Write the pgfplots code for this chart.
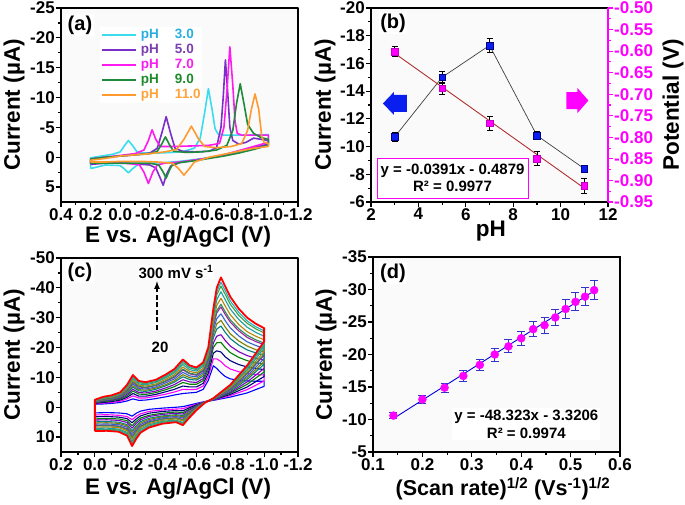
\documentclass[border=0pt]{standalone}
\usepackage{fontspec}
\setmainfont{Liberation Sans}
\usepackage{pgfplots}
\pgfplotsset{compat=1.18}
\usepackage{pgfplotstable}

\definecolor{mag}{RGB}{255,0,255}
\definecolor{cPHa}{HTML}{3ADCEE}
\definecolor{cPHb}{HTML}{7A2FC8}
\definecolor{cPHc}{HTML}{FF1AF0}
\definecolor{cPHd}{HTML}{1E8A3C}
\definecolor{cPHe}{HTML}{FF9A2E}
\definecolor{tPHa}{HTML}{2AAEE0}
\definecolor{tPHb}{HTML}{7B3FB0}
\definecolor{tPHc}{HTML}{F81EF0}
\definecolor{tPHd}{HTML}{1E8A2A}
\definecolor{tPHe}{HTML}{FFA33A}
\definecolor{fitred}{HTML}{B03030}
\definecolor{kA}{HTML}{0000FF}
\definecolor{kB}{HTML}{FF00FF}
\definecolor{kC}{HTML}{000080}
\definecolor{kD}{HTML}{008000}
\definecolor{kE}{HTML}{8000C0}
\definecolor{kF}{HTML}{008080}
\definecolor{kG}{HTML}{808000}
\definecolor{kH}{HTML}{3366CC}
\definecolor{kI}{HTML}{A020A0}
\definecolor{kJ}{HTML}{2E8B57}
\definecolor{kK}{HTML}{B8860B}
\definecolor{kL}{HTML}{1F9F9F}
\definecolor{kM}{HTML}{40A040}
\definecolor{kN}{HTML}{20B2C0}
\definecolor{kO}{HTML}{FF0000}
\definecolor{ebar}{HTML}{3333CC}
\definecolor{bsq}{HTML}{0A1EF0}

\pgfplotstableread[row sep=\\]{
E c1 c2 c3 c4 c5 c6 c7 c8 c9 c10 c11 c12 c13 c14 c15\\
0.00 1.9 2.6 3.2 3.9 4.3 4.9 5.3 5.7 6.1 6.3 6.7 7.1 7.5 7.7 8.0\\
0.00 -1.0 -1.2 -1.3 -1.5 -1.6 -1.7 -1.8 -1.9 -2.0 -2.1 -2.2 -2.3 -2.4 -2.4 -2.5\\
-0.05 -1.1 -1.4 -1.6 -1.9 -2.1 -2.3 -2.4 -2.6 -2.8 -2.8 -3.0 -3.1 -3.3 -3.4 -3.5\\
-0.10 -1.3 -1.6 -1.9 -2.2 -2.4 -2.6 -2.8 -3.0 -3.2 -3.2 -3.4 -3.6 -3.8 -3.9 -4.0\\
-0.15 -1.6 -2.0 -2.4 -2.7 -3.0 -3.3 -3.5 -3.7 -4.0 -4.1 -4.3 -4.5 -4.7 -4.8 -5.0\\
-0.19 -2.1 -2.8 -3.3 -3.8 -4.3 -4.8 -5.1 -5.5 -5.8 -6.0 -6.3 -6.7 -7.0 -7.2 -7.5\\
-0.225 -2.8 -3.8 -4.6 -5.4 -6.0 -6.7 -7.2 -7.8 -8.3 -8.6 -9.0 -9.6 -10.1 -10.4 -10.8\\
-0.26 -2.3 -3.1 -3.7 -4.4 -4.9 -5.5 -5.9 -6.3 -6.8 -7.0 -7.4 -7.8 -8.2 -8.5 -8.8\\
-0.30 -2.4 -3.1 -3.7 -4.3 -4.8 -5.3 -5.7 -6.1 -6.5 -6.7 -7.1 -7.5 -7.9 -8.1 -8.4\\
-0.36 -2.9 -3.7 -4.3 -4.9 -5.4 -6.0 -6.4 -6.8 -7.3 -7.4 -7.8 -8.3 -8.6 -8.9 -9.2\\
-0.42 -3.5 -4.4 -5.2 -5.9 -6.5 -7.2 -7.6 -8.2 -8.7 -8.9 -9.4 -9.9 -10.3 -10.6 -11.0\\
-0.47 -4.1 -5.1 -6.0 -6.9 -7.6 -8.4 -8.9 -9.5 -10.1 -10.4 -10.9 -11.5 -12.0 -12.4 -12.8\\
-0.52 -4.6 -6.0 -7.1 -8.3 -9.2 -10.2 -10.9 -11.7 -12.5 -12.8 -13.5 -14.3 -15.0 -15.4 -16.0\\
-0.56 -4.8 -5.9 -6.8 -7.7 -8.5 -9.3 -9.9 -10.5 -11.2 -11.4 -12.0 -12.6 -13.2 -13.5 -14.0\\
-0.60 -5.0 -6.0 -6.8 -7.7 -8.3 -9.1 -9.6 -10.2 -10.7 -11.0 -11.5 -12.1 -12.6 -12.9 -13.3\\
-0.64 -6.0 -7.1 -8.0 -8.9 -9.6 -10.4 -11.0 -11.6 -12.2 -12.5 -13.0 -13.7 -14.2 -14.6 -15.0\\
-0.67 -9.0 -10.3 -11.4 -12.5 -13.4 -14.4 -15.1 -15.8 -16.6 -16.9 -17.6 -18.4 -19.0 -19.5 -20.0\\
-0.70 -13.9 -16.2 -18.1 -20.0 -21.5 -23.3 -24.4 -25.7 -27.1 -27.7 -28.8 -30.1 -31.3 -32.0 -33.0\\
-0.72 -13.0 -16.2 -18.9 -21.6 -23.8 -26.2 -27.9 -29.7 -31.6 -32.4 -34.1 -36.0 -37.6 -38.7 -40.0\\
-0.745 -11.5 -15.3 -18.5 -21.7 -24.3 -27.2 -29.1 -31.3 -33.6 -34.5 -36.5 -38.7 -40.6 -41.9 -43.5\\
-0.77 -10.3 -13.9 -16.9 -20.0 -22.4 -25.1 -26.9 -29.0 -31.1 -32.0 -33.9 -36.0 -37.8 -39.0 -40.5\\
-0.80 -9.5 -12.8 -15.6 -18.3 -20.5 -23.0 -24.6 -26.6 -28.5 -29.3 -31.0 -32.9 -34.5 -35.6 -37.0\\
-0.85 -9.0 -11.9 -14.3 -16.7 -18.6 -20.8 -22.2 -23.9 -25.6 -26.3 -27.7 -29.4 -30.8 -31.8 -33.0\\
-0.90 -8.8 -11.3 -13.5 -15.6 -17.3 -19.2 -20.5 -21.9 -23.4 -24.1 -25.3 -26.8 -28.1 -28.9 -30.0\\
-0.95 -8.7 -11.0 -13.0 -14.9 -16.4 -18.2 -19.3 -20.7 -22.0 -22.6 -23.8 -25.1 -26.3 -27.0 -28.0\\
-1.00 -8.7 -10.8 -12.6 -14.4 -15.8 -17.4 -18.5 -19.7 -21.0 -21.5 -22.6 -23.8 -24.9 -25.6 -26.5\\
-1.00 -7.0 -8.8 -10.3 -11.8 -13.0 -14.4 -15.3 -16.3 -17.4 -17.8 -18.7 -19.8 -20.7 -21.3 -22.0\\
-0.90 -4.8 -5.9 -6.8 -7.7 -8.5 -9.3 -9.9 -10.5 -11.2 -11.4 -12.0 -12.6 -13.2 -13.5 -14.0\\
-0.80 -3.4 -3.9 -4.3 -4.7 -5.0 -5.4 -5.7 -5.9 -6.2 -6.4 -6.6 -6.9 -7.1 -7.3 -7.5\\
-0.70 -2.3 -2.4 -2.5 -2.5 -2.6 -2.6 -2.7 -2.7 -2.8 -2.8 -2.9 -2.9 -2.9 -3.0 -3.0\\
-0.65 -1.9 -1.9 -1.8 -1.8 -1.7 -1.7 -1.7 -1.7 -1.6 -1.6 -1.6 -1.6 -1.5 -1.5 -1.5\\
-0.60 -1.3 -1.0 -0.8 -0.6 -0.4 -0.2 0.0 0.1 0.3 0.4 0.5 0.7 0.8 0.9 1.0\\
-0.55 -0.6 -0.1 0.4 0.9 1.2 1.7 1.9 2.3 2.6 2.7 3.0 3.3 3.6 3.8 4.0\\
-0.52 -0.2 0.5 1.2 1.8 2.3 2.8 3.2 3.6 4.1 4.3 4.6 5.1 5.4 5.7 6.0\\
-0.48 0.0 0.6 1.1 1.6 2.0 2.5 2.8 3.1 3.5 3.6 3.9 4.3 4.6 4.8 5.0\\
-0.40 0.3 0.9 1.4 2.0 2.4 2.9 3.2 3.5 3.9 4.0 4.4 4.7 5.0 5.2 5.5\\
-0.32 0.7 1.4 2.0 2.7 3.1 3.7 4.1 4.5 4.9 5.1 5.5 5.9 6.3 6.5 6.8\\
-0.27 1.3 2.2 2.9 3.6 4.2 4.8 5.3 5.8 6.3 6.5 6.9 7.4 7.9 8.1 8.5\\
-0.245 2.0 3.0 3.9 4.7 5.4 6.2 6.7 7.3 7.9 8.1 8.6 9.2 9.7 10.1 10.5\\
-0.22 3.0 4.2 5.2 6.2 7.0 7.9 8.5 9.2 9.9 10.2 10.8 11.5 12.1 12.5 13.0\\
-0.19 2.2 3.1 3.8 4.5 5.1 5.8 6.2 6.7 7.2 7.5 7.9 8.4 8.8 9.1 9.5\\
-0.14 1.9 2.7 3.3 3.9 4.4 5.0 5.4 5.8 6.3 6.4 6.8 7.3 7.6 7.9 8.2\\
-0.07 1.8 2.5 3.1 3.8 4.2 4.8 5.2 5.6 6.0 6.2 6.6 7.0 7.4 7.6 7.9\\
0.00 1.9 2.6 3.2 3.9 4.3 4.9 5.3 5.7 6.1 6.3 6.7 7.1 7.5 7.7 8.0\\
}\tblc

\pgfplotsset{
  base/.style={
    scale only axis,
    tick style={line width=1.2pt, black},
    major tick length=5pt, minor tick length=3pt,
    tick align=outside,
    minor tick num=1,
    tick label style={font=\fontsize{17}{17}\selectfont\bfseries, inner sep=1pt},
    label style={font=\fontsize{22.5}{24}\selectfont\bfseries, inner sep=0.5pt},
    /pgf/number format/assume math mode=true,
    scaled ticks=false,
  },
  myax/.style={
    base,
    axis line style={line width=1.6pt},
    xtick pos=left, ytick pos=left,
    axis background/.style={fill=black!2},
  },
}
\tikzset{plab/.style={font=\fontsize{20}{20}\selectfont\bfseries, fill=white, inner sep=1.5pt}}

\begin{document}
\begin{tikzpicture}
\path[use as bounding box] (0pt,0pt) rectangle (685pt,505pt);

% ---------------- (a)
\begin{axis}[myax, at={(61pt,303pt)}, anchor=south west, width=237pt, height=194pt,
  x dir=reverse, y dir=reverse, xmin=-1.2, xmax=0.4, ymin=-25, ymax=7.5,
  xtick={-1.2,-1,-0.8,-0.6,-0.4,-0.2,0,0.2,0.4}, ytick={-25,-20,-15,-10,-5,0,5},
  xticklabel style={/pgf/number format/.cd, fixed, fixed zerofill, precision=1},
  xlabel={E vs. Ag/AgCl (V)}, ylabel={Current (µA)},
  xlabel style={at={(axis description cs:0.494,-0.18)}, anchor=center},
  ylabel style={at={(axis description cs:-0.198,0.5)}, anchor=center},
  legend cell align=left,
  legend image code/.code={\draw[#1, line width=2.2pt] (0pt,0pt) -- (34pt,0pt);},
  legend style={at={(axis description cs:0.165,0.905)}, anchor=north west, draw=none, fill=white,
    inner sep=1pt, row sep=1pt, column sep=3pt, font=\fontsize{13.5}{14}\selectfont\bfseries,
    nodes={inner sep=0.5pt, text height=10pt, text depth=3pt}},
  line join=round]
\addplot[cPHa, line width=1.6pt] coordinates {(0.2,1.9) (0.2,0.1) (0.15,-0.1) (0.1,-0.3) (0.05,-0.5) (0.0,-0.9) (-0.025,-1.8) (-0.055,-2.8) (-0.085,-1.9) (-0.11,-1.0) (-0.15,-0.7) (-0.25,-0.7) (-0.35,-0.8) (-0.43,-1.0) (-0.5,-1.5) (-0.54,-3.2) (-0.57,-7.5) (-0.595,-11.5) (-0.62,-8.0) (-0.64,-4.8) (-0.66,-3.9) (-0.7,-3.7) (-0.85,-3.7) (-1.0,-3.8) (-1.0,-2.2) (-0.9,-1.5) (-0.8,-0.9) (-0.7,-0.4) (-0.6,0.1) (-0.5,0.4) (-0.4,0.7) (-0.3,0.9) (-0.2,1.0) (-0.12,1.2) (-0.08,2.0) (-0.055,2.6) (-0.03,2.0) (0.0,1.4) (0.1,1.3) (0.2,1.9)};
\addlegendentry{\textcolor{tPHa}{\makebox[34pt][l]{pH}3.0}}
\addplot[cPHb, line width=1.6pt] coordinates {(0.2,1.2) (0.2,0.3) (0.1,0.0) (0.0,-0.2) (-0.1,-0.4) (-0.2,-0.7) (-0.25,-1.5) (-0.28,-4.0) (-0.31,-6.8) (-0.34,-4.0) (-0.37,-1.5) (-0.42,-1.0) (-0.5,-0.9) (-0.6,-1.0) (-0.65,-1.6) (-0.68,-5) (-0.695,-10) (-0.71,-16.3) (-0.725,-11) (-0.74,-5) (-0.76,-2.8) (-0.8,-2.2) (-0.85,-2.5) (-0.9,-3.2) (-0.95,-3.0) (-1.0,-2.8) (-1.0,-2.2) (-0.9,-1.6) (-0.8,-1.0) (-0.7,-0.4) (-0.6,0.1) (-0.5,0.5) (-0.4,0.9) (-0.34,1.5) (-0.31,3.0) (-0.29,4.7) (-0.27,3.5) (-0.24,1.8) (-0.2,1.3) (-0.1,1.1) (0.0,1.0) (0.1,1.0) (0.2,1.2)};
\addlegendentry{\textcolor{tPHb}{\makebox[34pt][l]{pH}5.0}}
\addplot[cPHc, line width=1.6pt] coordinates {(0.2,1.0) (0.2,0.3) (0.1,0.0) (0.0,-0.3) (-0.1,-0.6) (-0.16,-1.2) (-0.19,-2.8) (-0.215,-4.6) (-0.24,-3.0) (-0.27,-1.8) (-0.35,-1.8) (-0.5,-1.9) (-0.6,-2.0) (-0.67,-2.3) (-0.7,-5) (-0.72,-11) (-0.74,-18.5) (-0.76,-12) (-0.775,-6) (-0.79,-4.0) (-0.82,-3.7) (-0.9,-3.7) (-1.0,-3.7) (-1.0,-2.5) (-0.9,-1.8) (-0.8,-1.1) (-0.7,-0.4) (-0.6,0.1) (-0.5,0.5) (-0.4,0.8) (-0.3,1.0) (-0.25,1.3) (-0.22,2.5) (-0.19,4.4) (-0.16,2.5) (-0.13,1.3) (-0.05,1.0) (0.1,1.0) (0.2,1.0)};
\addlegendentry{\textcolor{tPHc}{\makebox[34pt][l]{pH}7.0}}
\addplot[cPHd, line width=1.6pt] coordinates {(0.2,1.0) (0.2,0.3) (0.1,0.0) (0.0,-0.2) (-0.1,-0.4) (-0.2,-0.6) (-0.25,-1.0) (-0.28,-2.2) (-0.305,-3.4) (-0.33,-2.2) (-0.36,-1.0) (-0.45,-0.8) (-0.55,-0.9) (-0.65,-1.2) (-0.72,-2.0) (-0.76,-4.5) (-0.785,-9) (-0.81,-12.3) (-0.835,-9) (-0.86,-5.5) (-0.9,-4.0) (-0.95,-3.3) (-1.0,-3.0) (-1.0,-2.0) (-0.9,-1.3) (-0.8,-0.7) (-0.7,-0.2) (-0.6,0.2) (-0.5,0.6) (-0.4,0.9) (-0.35,1.3) (-0.33,2.3) (-0.31,3.5) (-0.29,2.5) (-0.26,1.3) (-0.2,1.0) (-0.1,1.0) (0.1,1.0) (0.2,1.0)};
\addlegendentry{\textcolor{tPHd}{\makebox[34pt][l]{pH}9.0}}
\addplot[cPHe, line width=1.6pt] coordinates {(0.2,0.8) (0.2,0.5) (0.1,0.2) (0.0,-0.2) (-0.1,-0.4) (-0.2,-0.6) (-0.3,-0.9) (-0.38,-1.3) (-0.43,-3.0) (-0.48,-5.2) (-0.53,-3.0) (-0.57,-1.8) (-0.65,-1.6) (-0.75,-1.8) (-0.82,-2.3) (-0.86,-4.5) (-0.885,-8) (-0.91,-10.6) (-0.935,-8) (-0.955,-3.5) (-0.97,-2.5) (-1.0,-2.3) (-1.0,-1.8) (-0.9,-1.5) (-0.8,-1.0) (-0.7,-0.5) (-0.6,0.0) (-0.5,0.8) (-0.47,1.8) (-0.43,3.0) (-0.39,1.8) (-0.35,1.0) (-0.25,0.8) (-0.15,0.7) (0.0,0.7) (0.1,0.8) (0.2,0.8)};
\addlegendentry{\textcolor{tPHe}{\makebox[34pt][l]{pH}11.0}}
\node[plab] at (axis description cs:0.08,0.912) {(a)};
\end{axis}

% ---------------- (b) left
\begin{axis}[myax, at={(371pt,303pt)}, anchor=south west, width=237pt, height=194pt,
  xmin=2, xmax=12, ymin=-20, ymax=-6, y dir=reverse,
  xtick={2,4,6,8,10,12}, ytick={-20,-18,-16,-14,-12,-10,-8,-6},
  xlabel={pH}, ylabel={Current (µA)},
  xlabel style={at={(axis description cs:0.506,-0.15)}, anchor=center},
  ylabel style={at={(axis description cs:-0.194,0.5)}, anchor=center}]
\addplot[black!75, line width=0.7pt, mark=square*, mark size=3.3pt,
  mark options={fill=bsq, draw=blue!50!black, line width=0.4pt},
  error bars/.cd, y dir=both, y explicit,
  error bar style={black, line width=0.8pt},
  error mark options={rotate=90, black, mark size=3pt, line width=0.8pt}]
  table[x=x, y=y, y error=e] {
x y e
3 -10.7 0.32
5 -15.0 0.42
7 -17.3 0.54
9 -10.8 0.29
11 -8.4 0.26
};
\coordinate (barr) at (axis description cs:0.101,0.508);
\coordinate (marr) at (axis description cs:0.871,0.523);
\node[plab] at (axis description cs:0.093,0.923) {(b)};
\end{axis}
\fill[bsq, shift={(barr)}] (-12pt,0pt) -- (-1pt,11.5pt) -- (-1pt,8.5pt) -- (12pt,8.5pt) -- (12pt,-8.5pt) -- (-1pt,-8.5pt) -- (-1pt,-11.5pt) -- cycle;
\fill[mag, shift={(marr)}] (11pt,0pt) -- (0pt,12.5pt) -- (0pt,8.5pt) -- (-11pt,8.5pt) -- (-11pt,-8.5pt) -- (0pt,-8.5pt) -- (0pt,-12.5pt) -- cycle;

% ---------------- (b) right
\begin{axis}[base, at={(371pt,303pt)}, anchor=south west, width=237pt, height=194pt,
  xmin=2, xmax=12, ymin=-0.95, ymax=-0.50,
  axis x line=none, axis y line*=right,
  y axis line style={mag, line width=2pt},
  ytick={-0.95,-0.9,-0.85,-0.8,-0.75,-0.7,-0.65,-0.6,-0.55,-0.5},
  ytick style={mag, line width=1.2pt},
  yticklabel style={mag, /pgf/number format/.cd, fixed, fixed zerofill, precision=2},
  ylabel={Potential (V)},
  ylabel style={at={(axis description cs:1.274,0.5)}, anchor=center}]
\addplot[fitred, line width=0.9pt] coordinates {(3,-0.6052) (11,-0.9180)};
\addplot[only marks, mark=square*, mark size=3.3pt,
  mark options={fill=mag, draw=mag!75!black, line width=0.4pt},
  error bars/.cd, y dir=both, y explicit,
  error bar style={black, line width=0.8pt},
  error mark options={rotate=90, black, mark size=3pt, line width=0.8pt}]
  table[x=x, y=y, y error=e] {
x y e
3 -0.601 0.012
5 -0.686 0.014
7 -0.767 0.016
9 -0.849 0.017
11 -0.912 0.017
};
\node[draw=mag, line width=0.8pt, fill=white, minimum width=151pt, minimum height=40pt, align=center,
  font=\fontsize{15}{17}\selectfont\bfseries, inner sep=0pt] at (axis description cs:0.344,0.124)
  {y = -0.0391x - 0.4879\\R² = 0.9977};
\end{axis}

% ---------------- (c)
\begin{axis}[myax, at={(61pt,53pt)}, anchor=south west, width=237pt, height=194pt,
  x dir=reverse, y dir=reverse, xmin=-1.2, xmax=0.2, ymin=-50, ymax=15,
  xtick={-1.2,-1,-0.8,-0.6,-0.4,-0.2,0,0.2}, ytick={-50,-40,-30,-20,-10,0,10},
  xticklabel style={/pgf/number format/.cd, fixed, fixed zerofill, precision=1},
  xlabel={E vs. Ag/AgCl (V)}, ylabel={Current (µA)},
  xlabel style={at={(axis description cs:0.494,-0.19)}, anchor=center},
  ylabel style={at={(axis description cs:-0.198,0.5)}, anchor=center},
  line join=round]
\addplot[kA, line width=1.1pt] table[x=E, y=c1] {\tblc};
\addplot[kB, line width=1.1pt] table[x=E, y=c2] {\tblc};
\addplot[kC, line width=1.1pt] table[x=E, y=c3] {\tblc};
\addplot[kD, line width=1.1pt] table[x=E, y=c4] {\tblc};
\addplot[kE, line width=1.1pt] table[x=E, y=c5] {\tblc};
\addplot[kF, line width=1.1pt] table[x=E, y=c6] {\tblc};
\addplot[kG, line width=1.1pt] table[x=E, y=c7] {\tblc};
\addplot[kH, line width=1.1pt] table[x=E, y=c8] {\tblc};
\addplot[kI, line width=1.1pt] table[x=E, y=c9] {\tblc};
\addplot[kJ, line width=1.1pt] table[x=E, y=c10] {\tblc};
\addplot[kK, line width=1.1pt] table[x=E, y=c11] {\tblc};
\addplot[kL, line width=1.1pt] table[x=E, y=c12] {\tblc};
\addplot[kM, line width=1.1pt] table[x=E, y=c13] {\tblc};
\addplot[kN, line width=1.1pt] table[x=E, y=c14] {\tblc};
\addplot[kO, line width=1.8pt] table[x=E, y=c15] {\tblc};
\node[plab] at (axis description cs:0.08,0.928) {(c)};
\node[font=\fontsize{15}{15}\selectfont\bfseries, fill=white, inner sep=1pt] at (axis description cs:0.485,0.928) {300 mV s\textsuperscript{-1}};
\draw[dash pattern=on 5pt off 2.5pt, line width=1.6pt, -latex] (axis description cs:0.405,0.629) -- (axis description cs:0.405,0.88);
\node[font=\fontsize{15}{15}\selectfont\bfseries, fill=white, inner sep=1pt] at (axis description cs:0.418,0.541) {20};
\end{axis}

% ---------------- (d)
\begin{axis}[myax, at={(373pt,53pt)}, anchor=south west, width=247pt, height=195pt,
  y dir=reverse, xmin=0.1, xmax=0.6, ymin=-35, ymax=-5,
  xtick={0.1,0.2,0.3,0.4,0.5,0.6}, ytick={-35,-30,-25,-20,-15,-10,-5},
  xticklabel style={/pgf/number format/.cd, fixed, fixed zerofill, precision=1},
  xlabel={(Scan rate)\textsuperscript{1/2} (Vs\textsuperscript{-1})\textsuperscript{1/2}}, ylabel={Current (µA)},
  xlabel style={at={(axis description cs:0.526,-0.188)}, anchor=center, font=\fontsize{21.5}{23}\selectfont\bfseries},
  ylabel style={at={(axis description cs:-0.19,0.5)}, anchor=center}]
\addplot[blue!85!black, line width=0.9pt] coordinates {(0.1414,-10.15) (0.5477,-29.79)};
\addplot[only marks, mark=*, mark size=4pt,
  mark options={fill=mag, draw=mag},
  error bars/.cd, y dir=both, y explicit,
  error bar style={ebar, line width=0.9pt},
  error mark options={rotate=90, ebar, mark size=4pt, line width=0.9pt}]
  table[x=x, y=y, y error=e] {
x y e
0.1414 -10.6 0.5
0.2000 -13.1 0.6
0.2449 -14.9 0.7
0.2828 -16.7 0.8
0.3162 -18.4 0.8
0.3464 -20.0 1.0
0.3742 -21.25 1.0
0.4000 -22.5 1.1
0.4243 -23.9 1.2
0.4472 -24.5 1.2
0.4690 -25.7 1.3
0.4899 -27.0 1.4
0.5099 -28.1 1.4
0.5292 -28.9 1.4
0.5477 -29.9 1.5
};
\node[plab] at (axis description cs:0.081,0.918) {(d)};
\node[fill=white, align=center, font=\fontsize{15}{18}\selectfont\bfseries, inner sep=2pt] at (axis description cs:0.621,0.144)
  {y = -48.323x - 3.3206\\R² = 0.9974};
\end{axis}
\end{tikzpicture}
\end{document}
